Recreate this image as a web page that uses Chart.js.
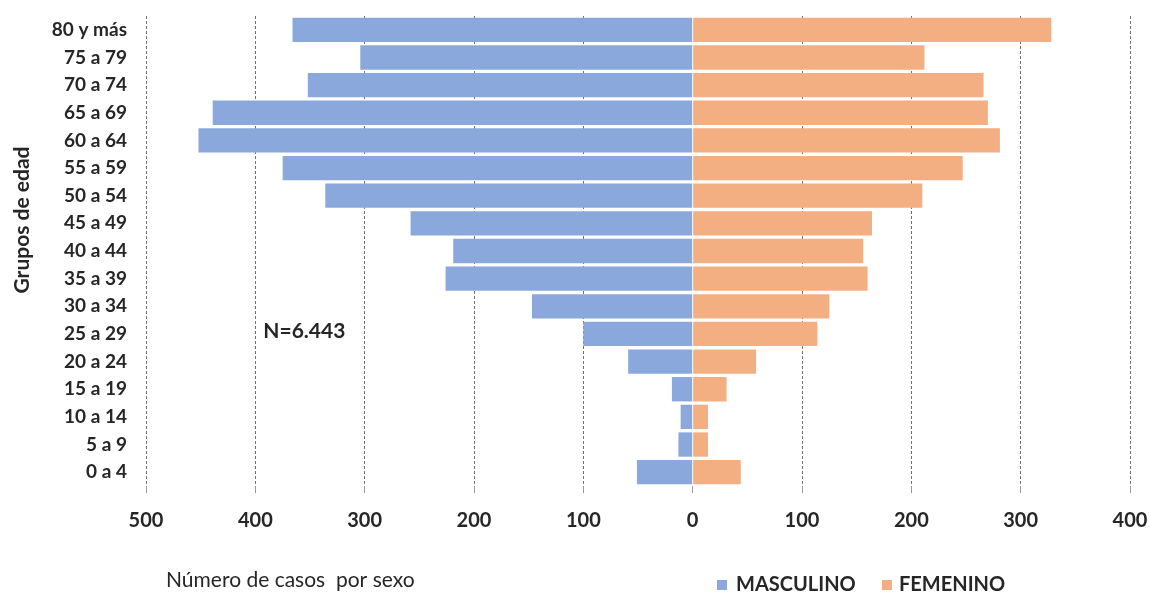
<!DOCTYPE html>
<html>
<head>
<meta charset="utf-8">
<script src="https://cdn.jsdelivr.net/npm/chart.js@4/dist/chart.umd.min.js"></script>
<style>
  html, body { margin: 0; padding: 0; background: #ffffff; }
  #wrap { width: 1150px; height: 596px; position: relative; }
</style>
</head>
<body>
<div id="wrap"><canvas id="chartContainer"></canvas></div>
<script>
// age groups, top to bottom as in the picture
const ageGroups = ['80 y más', '75 a 79', '70 a 74', '65 a 69', '60 a 64', '55 a 59', '50 a 54', '45 a 49',
    '40 a 44', '35 a 39', '30 a 34', '25 a 29', '20 a 24', '15 a 19', '10 a 14', '5 a 9', '0 a 4'];
const masculino = [366, 304, 352, 439, 452, 375, 336, 258, 219, 226, 147, 100, 59, 19, 11, 13, 51];
const femenino = [328, 212, 266, 270, 281, 247, 210, 164, 156, 160, 125, 114, 58, 31, 14, 14, 44];
const xTicks = [-500, -400, -300, -200, -100, 0, 100, 200, 300, 400];

const blue = '#8aa8dc';
const orange = '#f3ae82';
const textColor = '#262626';
const fontName = 'Lato, "Open Sans", sans-serif';

// extra texts: axis titles, N label, legend
const extraText = {
    id: 'extraText',
    afterDraw(chart) {
        const ctx = chart.ctx;
        const x = chart.scales.x;
        const y = chart.scales.y;
        ctx.save();
        ctx.fillStyle = textColor;

        // vertical title
        ctx.translate(22, 220);
        ctx.rotate(-Math.PI / 2);
        ctx.font = 'bold 21px ' + fontName;
        ctx.textAlign = 'center';
        ctx.textBaseline = 'middle';
        ctx.fillText('Grupos de edad', 0, 0);
        ctx.setTransform(1, 0, 0, 1, 0, 0);

        // N label beside the 25 a 29 row
        ctx.font = 'bold 21px ' + fontName;
        ctx.textAlign = 'left';
        ctx.fillText('N=6.443', x.getPixelForValue(-400) + 8, y.getPixelForValue(ageGroups.indexOf('25 a 29')) - 3);

        // bottom title
        ctx.font = '21px ' + fontName;
        ctx.fillText('Número de casos  por sexo', 166, 580);

        // legend
        ctx.font = 'bold 20px ' + fontName;
        ctx.fillStyle = blue;
        ctx.fillRect(717, 580, 10, 10);
        ctx.fillStyle = textColor;
        ctx.fillText('MASCULINO', 736, 585);
        ctx.fillStyle = orange;
        ctx.fillRect(882, 580, 10, 10);
        ctx.fillStyle = textColor;
        ctx.fillText('FEMENINO', 899, 585);
        ctx.restore();
    }
};

let chartContainer = document.getElementById('chartContainer');
let chart = new Chart(chartContainer, {
    type: 'bar',
    data: {
        labels: ageGroups,
        datasets: [
            {
                label: 'MASCULINO',
                data: masculino.map(v => -v),
                backgroundColor: blue,
                barPercentage: 0.88,
                categoryPercentage: 1
            },
            {
                label: 'FEMENINO',
                data: femenino,
                backgroundColor: orange,
                barPercentage: 0.88,
                categoryPercentage: 1
            }
        ]
    },
    options: {
        indexAxis: 'y',
        responsive: true,
        maintainAspectRatio: false,
        animation: false,
        layout: { padding: { top: 16, right: 20, left: 0, bottom: 0 } },
        plugins: {
            legend: { display: false },
            tooltip: { enabled: false }
        },
        scales: {
            x: {
                stacked: true,
                min: xTicks[0],
                max: xTicks[xTicks.length - 1],
                afterBuildTicks: (scale) => {
                    scale.ticks = xTicks.map(v => ({ value: v }));
                },
                afterFit: (scale) => {
                    scale.height = 110;
                    scale.paddingLeft = 0;
                    scale.paddingRight = 0;
                },
                ticks: {
                    callback: (v) => Math.abs(v),
                    color: textColor,
                    font: { family: fontName, size: 20, weight: 'bold' },
                    padding: 16,
                    maxRotation: 0
                },
                grid: {
                    color: (c) => (c.tick && c.tick.value === 0 ? '#ffffff' : '#6f6f6f'),
                    lineWidth: 1,
                    tickLength: 7,
                    tickColor: '#9a9a9a'
                },
                border: { display: false, dash: [3, 2] }
            },
            y: {
                stacked: true,
                afterFit: (scale) => {
                    scale.width = 146;
                    scale.paddingTop = 0;
                    scale.paddingBottom = 0;
                },
                ticks: {
                    color: textColor,
                    font: { family: fontName, size: 19, weight: 'bold' },
                    padding: 19
                },
                grid: { display: false, drawTicks: false },
                border: { display: false }
            }
        }
    },
    plugins: [extraText]
});
</script>
</body>
</html>
